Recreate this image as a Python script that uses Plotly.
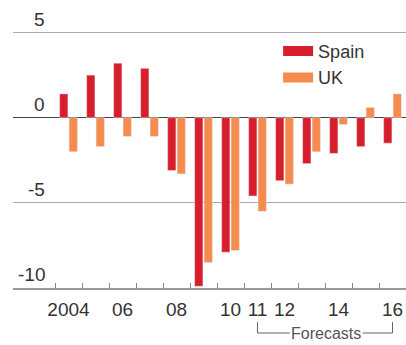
import plotly.graph_objects as go

# Annual values, 2004-2016 (2011 onward are forecasts)
years = list(range(2004, 2017))
spain = [1.4, 2.5, 3.2, 2.9, -3.1, -9.9, -7.9, -4.6, -3.7, -2.7, -2.1, -1.7, -1.5]
uk = [-2.0, -1.7, -1.1, -1.1, -3.3, -8.5, -7.8, -5.5, -3.9, -2.0, -0.4, 0.6, 1.4]

tick_years = [2004, 2006, 2008, 2010, 2011, 2012, 2014, 2016]
tick_text = ["2004", "06", "08", "10", "11", "12", "14", "16"]
y_grid = [5, 0, -5, -10]
y_labels = ["5", "0", "-5", "-10"]
forecast_span = (2011, 2016)

SPAIN_COLOR = "#d81e2c"
UK_COLOR = "#f58b4c"
FONT = "Liberation Sans Narrow, Arial Narrow, Liberation Sans, sans-serif"
TEXT = "#333333"

W, H = 406, 345
Y_TOP, Y_BOTTOM = 6.91, -10.0
X_LEFT, X_RIGHT = 2001.944, 2016.5

fig = go.Figure()
fig.add_trace(go.Bar(x=years, y=spain, name="Spain", marker_color=SPAIN_COLOR,
                     showlegend=False))
fig.add_trace(go.Bar(x=years, y=uk, name="UK", marker_color=UK_COLOR,
                     showlegend=False))
# legend swatches
for name, col in [("Spain", SPAIN_COLOR), ("UK", UK_COLOR)]:
    fig.add_trace(go.Scatter(x=[None], y=[None], mode="lines", name=name,
                             line=dict(color=col, width=10)))

x0_px = 13 / W
y0_paper = (H - 288) / H

fig.update_layout(
    width=W, height=H,
    margin=dict(l=0, r=0, t=0, b=0),
    paper_bgcolor="white", plot_bgcolor="white",
    barmode="group", bargap=0.3, bargroupgap=0.12,
    font=dict(family=FONT, size=19, color=TEXT),
    legend=dict(x=0.685, y=0.905, xanchor="left", yanchor="top",
                bgcolor="rgba(0,0,0,0)", borderwidth=0,
                font=dict(size=18, color=TEXT), tracegroupgap=0),
    xaxis=dict(domain=[x0_px, 1], range=[X_LEFT, X_RIGHT],
               tickvals=tick_years, ticktext=tick_text, ticks="",
               ticklabelstandoff=3,
               showgrid=False, zeroline=False,
               showline=True, linecolor="#999999", linewidth=1.5,
               tickfont=dict(size=19, color=TEXT),
               minor=dict(tickvals=[y - 0.5 for y in years] + [2016.5],
                          ticks="inside", ticklen=5, tickcolor="#888888",
                          tickwidth=1, showgrid=False)),
    yaxis=dict(domain=[y0_paper, 1], range=[Y_BOTTOM, Y_TOP],
               tickvals=y_grid, showticklabels=False, ticks="",
               showgrid=True, gridcolor="#aaaaaa", gridwidth=1,
               zeroline=True, zerolinecolor="#444444", zerolinewidth=1.2),
)

# y-axis labels sitting on their gridlines
for v, lab in zip(y_grid, y_labels):
    fig.add_annotation(x=47 / W, xref="paper", y=v, yref="y",
                       text=lab, showarrow=False, xanchor="right",
                       yanchor="bottom", yshift=1,
                       font=dict(size=19, color=TEXT))

# forecast bracket below the axis
fy_top = (H - 322) / H
fy_bot = (H - 333) / H
a, b = forecast_span
fig.add_shape(type="line", xref="x", yref="paper", x0=a, x1=a, y0=fy_top, y1=fy_bot,
              line=dict(color="#666666", width=1))
fig.add_shape(type="line", xref="x", yref="paper", x0=b, x1=b, y0=fy_top, y1=fy_bot,
              line=dict(color="#666666", width=1))
fig.add_shape(type="line", xref="x", yref="paper", x0=a, x1=2012.2, y0=fy_bot, y1=fy_bot,
              line=dict(color="#666666", width=1))
fig.add_shape(type="line", xref="x", yref="paper", x0=2014.9, x1=b, y0=fy_bot, y1=fy_bot,
              line=dict(color="#666666", width=1))
fig.add_annotation(x=(2012.2 + 2014.9) / 2, xref="x", y=fy_bot, yref="paper",
                   text="Forecasts", showarrow=False, yanchor="middle",
                   font=dict(size=16, color="#555555"))

fig.write_html("out.html")
